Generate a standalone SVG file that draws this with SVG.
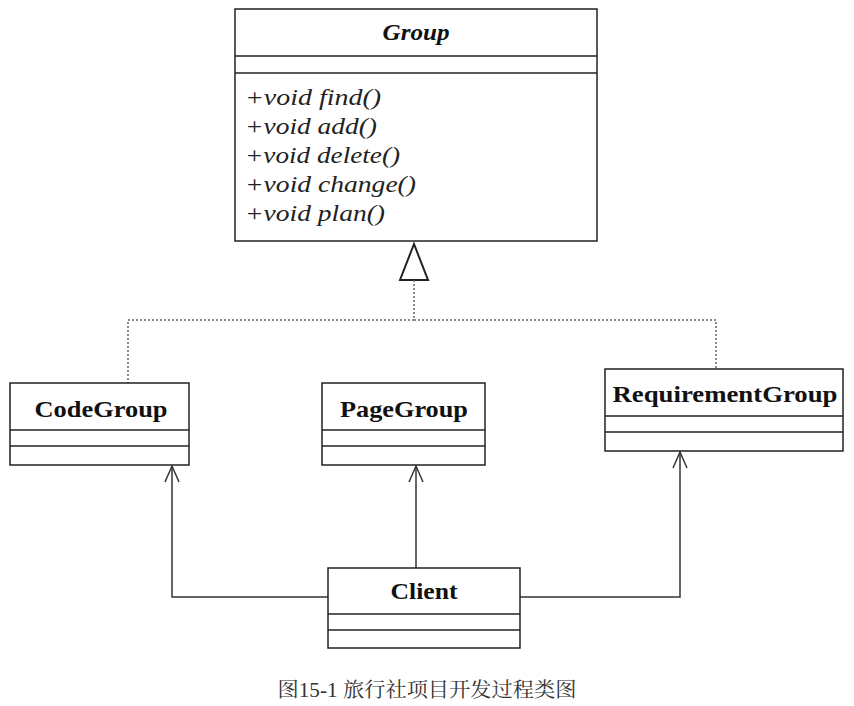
<svg xmlns="http://www.w3.org/2000/svg" width="854" height="706" viewBox="0 0 854 706">
<defs>
<style>
.box{fill:#fff;stroke:#222;stroke-width:1.5}
.div{stroke:#222;stroke-width:1.5}
.name{font-family:"Liberation Serif","Times New Roman",Times,serif;font-weight:bold;font-size:24px;fill:#111;text-anchor:middle}
.m{font-family:"Liberation Serif","Times New Roman",Times,serif;font-style:italic;font-size:24px;fill:#222}
.dot{fill:none;stroke:#666;stroke-width:1.5;stroke-dasharray:2 2}
.dep{fill:none;stroke:#333;stroke-width:1.5}
.cap{font-family:"Liberation Serif","Times New Roman","Noto Serif CJK SC","Noto Sans CJK SC",serif;font-size:20px;fill:#333;text-anchor:middle}
</style>
<marker id="open" viewBox="0 0 20 20" refX="18" refY="10" markerWidth="20" markerHeight="20" markerUnits="userSpaceOnUse" orient="auto">
<path d="M2 3 L18 10 L2 17" fill="none" stroke="#333" stroke-width="1.5"/>
</marker>
</defs>
<rect width="854" height="706" fill="#fff"/>
<g id="connectors">
<polygon points="414,244 400,280 428,280" fill="#fff" stroke="#222" stroke-width="2"/>
<polyline class="dot" points="414,280 414,320 128,320 128,383"/>
<polyline class="dot" points="414,320 716,320 716,369"/>
<polyline class="dep" points="328,597 172,597 172,466" marker-end="url(#open)"/>
<polyline class="dep" points="416,568 416,466" marker-end="url(#open)"/>
<polyline class="dep" points="520,597 680,597 680,452" marker-end="url(#open)"/>
</g>
<g id="Group">
<rect class="box" x="235" y="9" width="362" height="232"/>
<line class="div" x1="235" y1="56" x2="597" y2="56"/>
<line class="div" x1="235" y1="73" x2="597" y2="73"/>
<text class="name" x="416" y="40" font-style="italic" textLength="67" lengthAdjust="spacingAndGlyphs">Group</text>
<text class="m" x="245" y="105" textLength="136" lengthAdjust="spacingAndGlyphs">+void find()</text>
<text class="m" x="245" y="134" textLength="132" lengthAdjust="spacingAndGlyphs">+void add()</text>
<text class="m" x="245" y="163" textLength="155" lengthAdjust="spacingAndGlyphs">+void delete()</text>
<text class="m" x="245" y="192" textLength="171" lengthAdjust="spacingAndGlyphs">+void change()</text>
<text class="m" x="245" y="221" textLength="140" lengthAdjust="spacingAndGlyphs">+void plan()</text>
</g>
<g id="CodeGroup">
<rect class="box" x="10" y="383" width="179" height="82"/>
<line class="div" x1="10" y1="430" x2="189" y2="430"/>
<line class="div" x1="10" y1="446" x2="189" y2="446"/>
<text class="name" x="101" y="417" textLength="133" lengthAdjust="spacingAndGlyphs">CodeGroup</text>
</g>
<g id="PageGroup">
<rect class="box" x="322" y="383" width="163" height="82"/>
<line class="div" x1="322" y1="430" x2="485" y2="430"/>
<line class="div" x1="322" y1="446" x2="485" y2="446"/>
<text class="name" x="404" y="417" textLength="128" lengthAdjust="spacingAndGlyphs">PageGroup</text>
</g>
<g id="RequirementGroup">
<rect class="box" x="605" y="369" width="238" height="82"/>
<line class="div" x1="605" y1="416" x2="843" y2="416"/>
<line class="div" x1="605" y1="432" x2="843" y2="432"/>
<text class="name" x="725" y="402" textLength="225" lengthAdjust="spacingAndGlyphs">RequirementGroup</text>
</g>
<g id="Client">
<rect class="box" x="328" y="568" width="192" height="80"/>
<line class="div" x1="328" y1="614" x2="520" y2="614"/>
<line class="div" x1="328" y1="630" x2="520" y2="630"/>
<text class="name" x="424" y="599" textLength="67" lengthAdjust="spacingAndGlyphs">Client</text>
</g>
<text class="cap" x="427" y="697" textLength="299" lengthAdjust="spacingAndGlyphs">图15-1 旅行社项目开发过程类图</text>
</svg>
